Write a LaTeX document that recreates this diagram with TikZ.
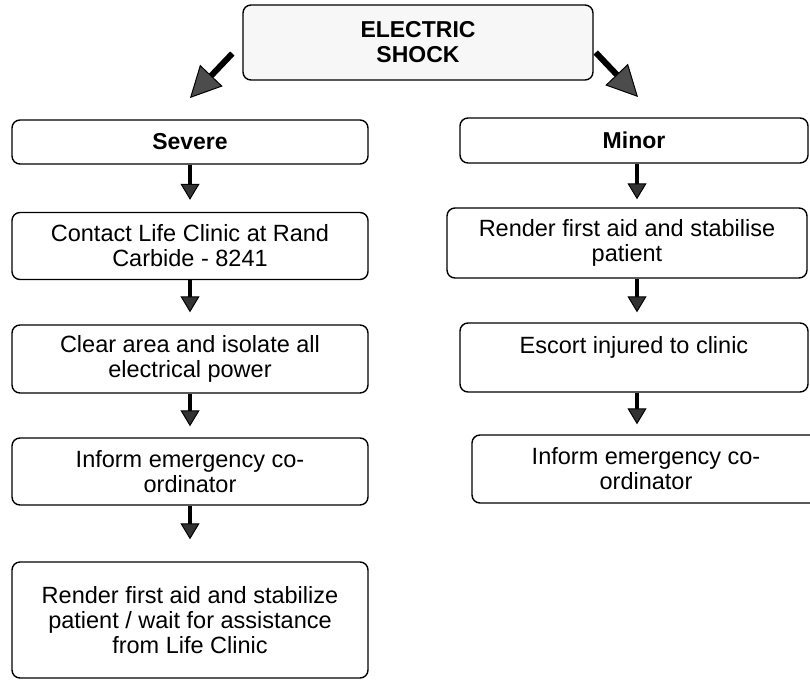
\documentclass[tikz,border=0pt]{standalone}
\usepackage{fontspec}
\setmainfont{Liberation Sans}
\usetikzlibrary{arrows.meta}
\begin{document}
\begin{tikzpicture}[x=1pt,y=-1pt,
  box/.style={draw, line width=1.4pt, rounded corners=8pt, align=center,
    inner sep=0pt, font=\fontsize{23.5}{25}\selectfont},
  boldtext/.style={font=\bfseries\fontsize{23}{25}\selectfont},
  colL/.style={minimum width=356pt},
  colR/.style={minimum width=348pt},
  flow/.style={line width=4.5pt,
    -{Triangle[length=16pt,width=19pt,fill=black!80,line width=1pt]}},
  big/.style={line width=6pt,
    -{Triangle[length=31pt,width=31pt,fill=black!70,line width=1pt]}}
]
\useasboundingbox (0,0) rectangle (810,680);

% title box
\node[box, boldtext, fill=gray!6, minimum width=350pt, minimum height=75pt]
  (shock) at (418,42.5) {ELECTRIC\\SHOCK};

% column axes for the vertical arrows
\coordinate (axisL) at (190,0);
\coordinate (axisR) at (637,0);

% severe branch
\node[box, boldtext, colL, minimum height=44pt] (severe) at (190,142) {Severe};
\node[box, colL, minimum height=67pt] (contact) at (190,246)
  {Contact Life Clinic at Rand\\Carbide - 8241};
\node[box, colL, minimum height=68pt] (clear) at (190,359)
  {Clear area and isolate all\\electrical power};
\node[box, colL, minimum height=67pt] (informL) at (190,471.5)
  {Inform emergency co-\\ordinator};
\node[box, colL, minimum height=116pt] (aid) at (190,620)
  {Render first aid and stabilize\\patient / wait for assistance\\from Life Clinic};

% minor branch
\node[box, boldtext, colR, minimum height=45pt] (minor) at (634,140.5) {Minor};
\node[box, minimum width=360pt, minimum height=70pt] (render) at (627,243)
  {Render first aid and stabilise\\patient};
\node[box, colR, minimum height=69pt] (escort) at (634,357.5)
  {Escort injured to clinic\\\mbox{}};
\node[box, colR, minimum height=68pt] (informR) at (646,469)
  {Inform emergency co-\\ordinator};

% branch arrows from the title
\coordinate (tipL) at (190,98);
\coordinate (tipR) at (638,97);
\draw[big] ([xshift=-10pt,yshift=-11pt]shock.west) -- (tipL);
\draw[big] ([xshift=2pt,yshift=-10pt]shock.east) -- (tipR);

% flow arrows
\draw[flow, shorten >=12pt] (severe.south -| axisL) -- (contact.north -| axisL);
\draw[flow, shorten >=12pt] (contact.south -| axisL) -- (clear.north -| axisL);
\draw[flow, shorten >=11pt] (clear.south -| axisL) -- (informL.north -| axisL);
\draw[flow, shorten >=22pt] (informL.south -| axisL) -- (aid.north -| axisL);
\draw[flow, shorten >=8pt] (minor.south -| axisR) -- (render.north -| axisR);
\draw[flow, shorten >=10pt] (render.south -| axisR) -- (escort.north -| axisR);
\draw[flow, shorten >=10pt] (escort.south -| axisR) -- (informR.north -| axisR);
\end{tikzpicture}
\end{document}
